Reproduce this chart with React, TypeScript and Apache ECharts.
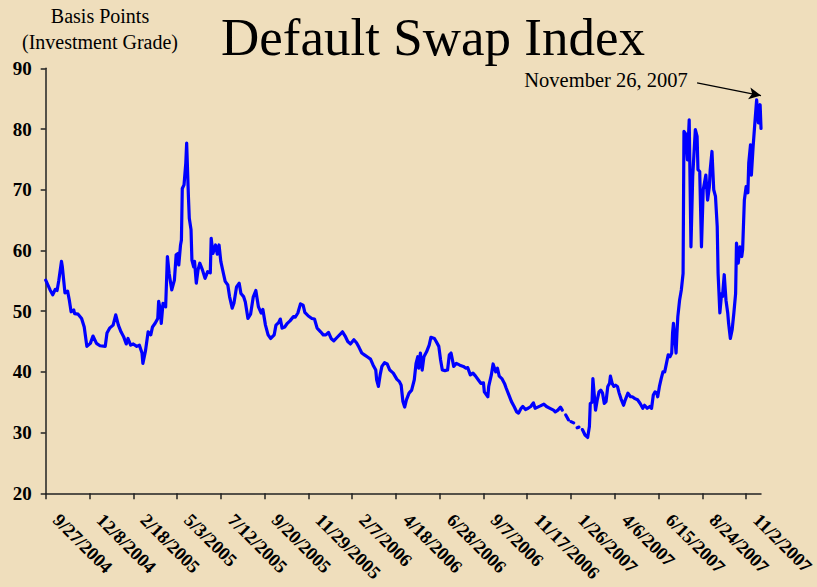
import React, { useEffect, useRef } from "react";
import * as echarts from "echarts";

// trading-day index (0 = 9/27/2004) and index level in basis points
const dayIndex = [
  0, 5, 8, 11, 13, 15, 18, 19, 22, 25, 27, 29, 32, 33, 37, 41, 44, 47, 51, 54, 58, 62, 68, 70, 73, 77, 80, 83, 86, 89,
  92, 94, 97, 100, 104, 107, 110, 111, 114, 117, 120, 122, 125, 128, 129, 131, 132, 134, 137, 139, 141, 144, 147, 149,
  151, 152, 154, 155, 156, 158, 160, 161, 163, 164, 166, 167, 169, 170, 172, 174, 176, 179, 182, 185, 188, 189, 191,
  194, 196, 198, 200, 203, 205, 208, 210, 213, 215, 218, 221, 223, 226, 228, 231, 234, 237, 240, 243, 246, 248, 251,
  254, 257, 261, 263, 266, 268, 270, 273, 276, 279, 283, 285, 288, 291, 294, 296, 300, 304, 307, 310, 314, 317, 320,
  323, 326, 329, 333, 339, 342, 345, 348, 352, 355, 358, 361, 364, 368, 371, 374, 377, 378, 380, 382, 384, 387, 390,
  393, 397, 401, 404, 406, 408, 410, 412, 415, 418, 421, 423, 425, 426, 428, 430, 432, 435, 438, 440, 444, 446, 449,
  451, 453, 456, 459, 461, 463, 466, 469, 473, 477, 480, 482, 485, 488, 491, 494, 497, 500, 501, 505, 506, 509, 511,
  514, 516, 518, 521, 524, 526, 529, 532, 535, 538, 540, 543, 545, 548, 551, 554, 557, 559, 562, 565, 569, 572, 576,
  580, 582, 585, 588, 590, 592, 594, 597, 599, 600, 603, 605, 607, 609, 611, 613, 616, 619, 621, 622, 624, 625, 628,
  630, 632, 634, 636, 638, 640, 642, 644, 645, 647, 649, 651, 653, 655, 657, 660, 662, 665, 668, 670, 673, 676, 679,
  682, 684, 687, 690, 692, 694, 696, 698, 699, 701, 703, 705, 707, 709, 711, 713, 715, 716, 717, 718, 720, 721, 722,
  724, 726, 728, 729, 731, 733, 735, 737, 739, 742, 744, 745, 747, 749, 751, 754, 756, 758, 759, 761, 763, 765, 767,
  768, 770, 772, 773, 775, 777, 779, 780, 782, 784, 786, 788, 789, 791, 793, 795, 796, 798, 800, 802, 803, 805, 806,
  808, 810, 812, 814, 816, 817,
];

const basisPoints: (number | null)[] = [
  55.1, 53.5, 52.7, 53.6, 53.4, 55.1, 58.2, 57.3, 53.0, 53.3, 51.8, 49.9, 50.2, 49.6, 49.5, 48.8, 47.4, 44.2, 44.7, 45.9,
  44.7, 44.3, 44.2, 46.4, 47.2, 47.7, 49.4, 47.7, 46.6, 45.8, 44.6, 45.5, 44.4, 44.6, 44.2, 44.4, 43.1, 41.4, 43.5, 46.6,
  46.1, 47.4, 48.0, 48.8, 51.6, 50.2, 48.0, 51.3, 50.7, 59.0, 56.2, 53.5, 55.1, 59.3, 59.5, 57.6, 60.9, 61.7, 70.2, 70.8,
  74.4, 77.7, 68.9, 65.3, 63.4, 58.4, 57.3, 58.2, 54.6, 56.8, 57.9, 56.8, 55.4, 56.5, 56.3, 62.0, 59.5, 60.9, 59.4, 60.9,
  58.2, 56.2, 54.9, 54.3, 52.4, 50.5, 51.3, 54.0, 54.6, 52.9, 52.4, 51.5, 48.8, 49.5, 52.3, 53.4, 50.7, 49.7, 50.3, 47.7,
  46.1, 45.5, 46.1, 47.7, 48.1, 48.7, 47.2, 47.4, 48.0, 48.4, 49.1, 49.0, 49.7, 51.2, 51.0, 49.8, 49.2, 48.8, 48.7, 47.2,
  46.6, 46.1, 46.1, 46.5, 45.5, 45.1, 45.7, 46.6, 45.9, 45.0, 44.6, 45.3, 44.8, 44.0, 43.1, 42.8, 42.4, 42.1, 41.1, 40.3,
  38.7, 37.6, 39.5, 40.9, 41.5, 41.3, 40.3, 39.8, 38.8, 38.4, 37.8, 35.1, 34.2, 35.4, 36.5, 37.0, 38.7, 41.4, 42.5, 40.6,
  43.1, 40.3, 42.5, 43.3, 44.4, 45.7, 45.5, 45.0, 44.2, 42.0, 40.3, 40.2, 40.3, 42.8, 43.1, 40.9, 41.4, 41.1, 40.9, 40.6,
  40.7, 39.5, 39.8, 39.3, 38.7, 38.1, 38.2, 36.7, 35.9, 37.6, 39.5, 41.3, 40.0, 40.6, 39.3, 38.9, 38.1, 37.3, 36.2, 35.1,
  34.3, 33.4, 33.2, 34.0, 34.3, 33.8, 34.0, 34.3, 34.9, 34.0, 34.2, 34.4, 34.7, 34.3, 34.0, 33.7, 33.4, 33.7, 34.2, 33.7,
  null, 32.9, 32.1, null, 31.8, 31.6, null, 30.8, 30.9, null, 30.5, 29.6, 29.2, 31.0, 34.8, 35.0, 38.9, 33.7, 35.4, 36.7,
  37.0, 36.5, 34.8, 35.1, 37.6, 38.1, 39.3, 38.1, 37.6, 37.8, 37.6, 36.5, 35.6, 34.5, 35.4, 36.5, 35.9, 35.9, 35.6, 35.4,
  34.8, 34.0, 34.5, 34.0, 34.3, 34.0, 36.2, 36.7, 36.5, 35.9, 37.6, 38.9, 40.0, 40.0, 41.4, 42.8, 42.5, 43.1, 46.4, 48.0,
  46.4, 43.1, 46.4, 49.1, 51.8, 53.5, 56.2, 79.6, 79.2, 74.9, 81.5, 60.6, 72.2, 79.9, 78.8, 73.3, 73.0, 60.6, 70.0, 72.4,
  68.3, 70.5, 73.3, 76.3, 70.0, 68.9, 63.9, 56.2, 49.7, 52.9, 52.4, 56.0, 51.8, 49.7, 48.0, 45.5, 46.9, 49.7, 52.9, 61.2,
  57.9, 60.6, 59.0, 60.1, 68.3, 70.5, 69.5, 74.4, 77.4, 72.4, 77.1, 81.0, 84.8, 81.0, 84.0, 80.1,
];

const tickLabels = [
  "9/27/2004", "12/8/2004", "2/18/2005", "5/3/2005", "7/12/2005", "9/20/2005", "11/29/2005", "2/7/2006",
  "4/18/2006", "6/28/2006", "9/7/2006", "11/17/2006", "1/26/2007", "4/6/2007", "6/15/2007", "8/24/2007", "11/2/2007",
];
const tickStep = 50;
const lastDay = 817;

const SERIF = "'Liberation Serif', 'Times New Roman', serif";

export default function App() {
  const ref = useRef<HTMLDivElement>(null);
  useEffect(() => {
    if (!ref.current) return;
    const chart = echarts.init(ref.current, null, { renderer: "svg" });
    const tickValues = tickLabels.map((_, i) => i * tickStep);
    const seriesData = dayIndex.map((d, i) => [d, basisPoints[i] == null ? "-" : basisPoints[i]]);
    chart.setOption({
      animation: false,
      backgroundColor: "#EFDEBC",
      grid: {
        left: 45.7,
        right: 56,
        top: 68.3,
        bottom: 93.7,
        containLabel: false,
        outerBoundsMode: "none",
      },
      graphic: [
        {
          type: "text",
          x: 433,
          y: 37,
          style: {
            text: "Default Swap Index",
            font: `53px ${SERIF}`,
            fill: "#000",
            align: "center",
            verticalAlign: "middle",
          },
        },
        {
          type: "text",
          x: 100,
          y: 16,
          style: { text: "Basis Points", font: `20px ${SERIF}`, fill: "#000", align: "center", verticalAlign: "middle" },
        },
        {
          type: "text",
          x: 100,
          y: 42,
          style: {
            text: "(Investment Grade)",
            font: `20px ${SERIF}`,
            fill: "#000",
            align: "center",
            verticalAlign: "middle",
          },
        },
        {
          type: "text",
          x: 606,
          y: 80,
          style: {
            text: "November 26, 2007",
            font: `20.5px ${SERIF}`,
            fill: "#000",
            align: "center",
            verticalAlign: "middle",
          },
        },
      ],
      xAxis: {
        type: "value",
        min: 0,
        max: lastDay,
        splitLine: { show: false },
        axisLine: { show: true, onZero: false, lineStyle: { color: "#222", width: 1.5 } },
        axisTick: {
          show: true,
          length: 6,
          customValues: tickValues,
          lineStyle: { color: "#222", width: 1.5 },
        },
        axisLabel: {
          customValues: tickValues,
          rotate: -45,
          margin: 27,
          verticalAlign: "bottom",
          padding: [0, 0, 0, 5],
          formatter: (v: number) => tickLabels[Math.round(v / tickStep)] ?? "",
          fontFamily: SERIF,
          fontWeight: "bold",
          fontSize: 18.5,
          color: "#000",
        },
      },
      yAxis: {
        type: "value",
        min: 20,
        max: 90,
        interval: 10,
        splitLine: { show: false },
        axisLine: { show: true, lineStyle: { color: "#222", width: 1.5 } },
        axisTick: { show: true, length: 5, lineStyle: { color: "#222", width: 1.5 } },
        axisLabel: {
          margin: 14,
          fontFamily: SERIF,
          fontWeight: "bold",
          fontSize: 19,
          color: "#000",
        },
      },
      series: [
        {
          type: "line",
          data: seriesData,
          showSymbol: false,
          connectNulls: false,
          lineStyle: { color: "#0000FF", width: 3.2, join: "round", cap: "round" },
          itemStyle: { color: "#0000FF" },
          markLine: {
            silent: true,
            symbol: ["none", "arrow"],
            symbolSize: [9, 12],
            label: { show: false },
            lineStyle: { color: "#000", width: 1.2, type: "solid" },
            data: [[{ coord: [744, 87.6] }, { coord: [817, 85.5] }]],
          },
        },
      ],
    });
    return () => chart.dispose();
  }, []);
  return (
    <div
      ref={ref}
      style={{ position: "absolute", left: 0, top: 0, width: 817, height: 587 }}
    />
  );
}
